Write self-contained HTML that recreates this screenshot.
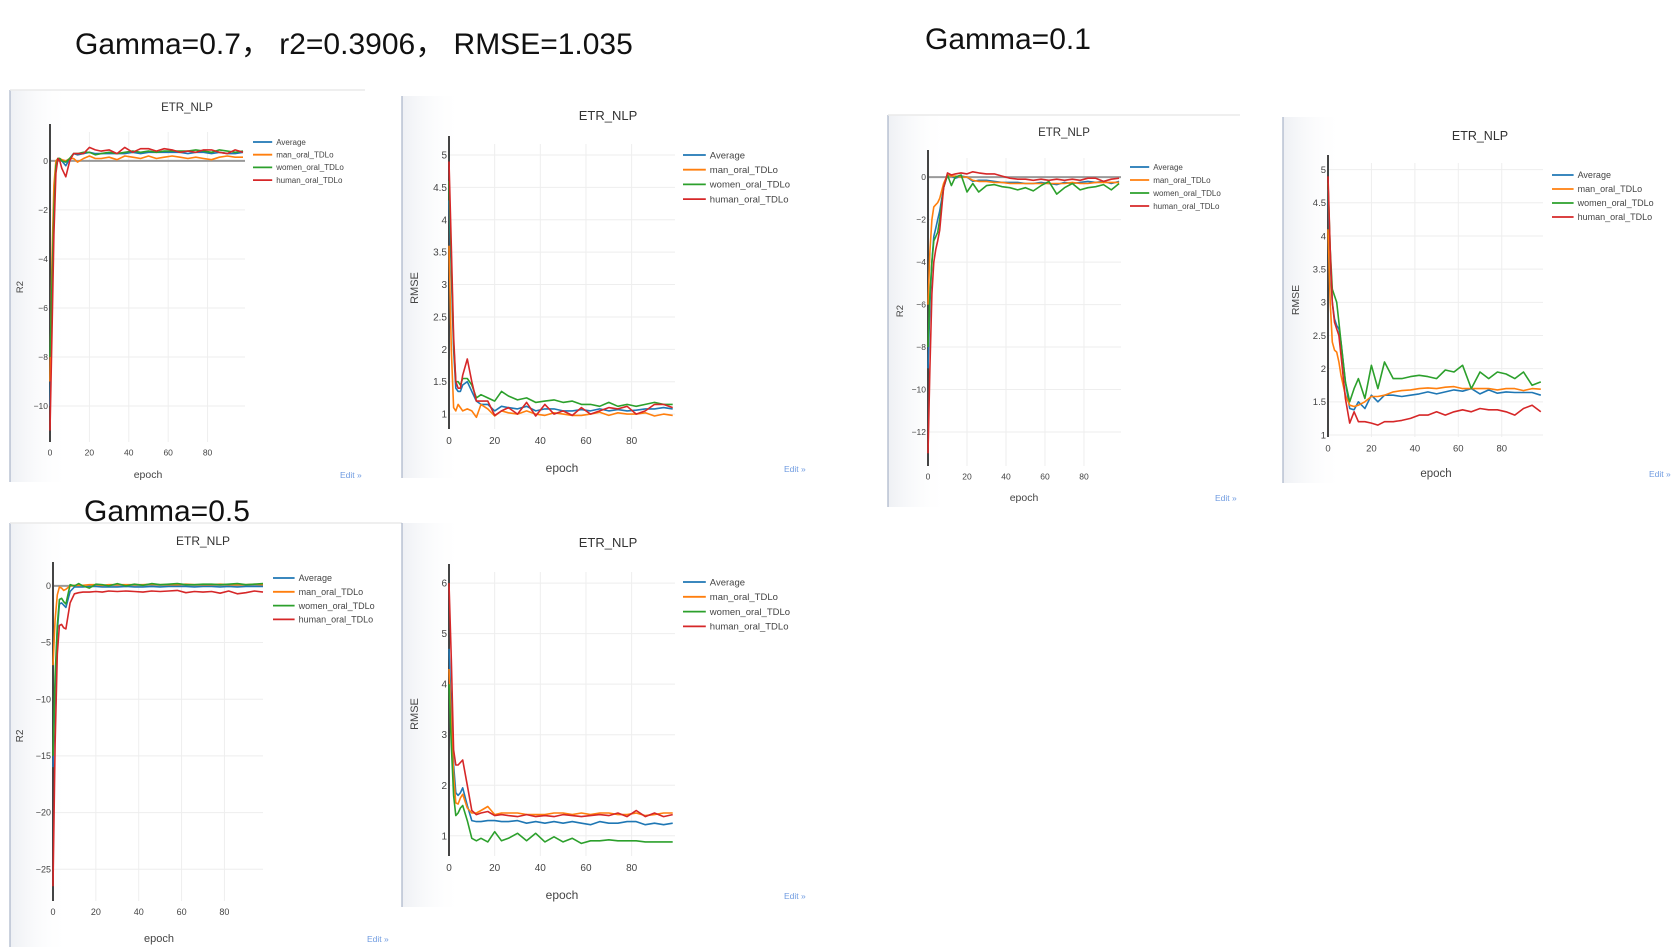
<!DOCTYPE html>
<html><head><meta charset="utf-8"><style>
body{margin:0;background:#fff;}
svg{display:block;font-family:"Liberation Sans","Noto Sans CJK SC",sans-serif;}
</style></head><body>
<svg id="s" width="1672" height="952" viewBox="0 0 1672 952">
<defs><linearGradient id="sh" x1="0" x2="1"><stop offset="0" stop-color="#eef0f4"/><stop offset="1" stop-color="#fff" stop-opacity="0"/></linearGradient></defs>
<text x="75" y="54" font-size="30" fill="#111">Gamma=0.7，  r2=0.3906，  RMSE=1.035</text>
<text x="925" y="49" font-size="30" fill="#111">Gamma=0.1</text>
<text x="84" y="521" font-size="30" fill="#111">Gamma=0.5</text>
</svg>
<script>
const epochs=[0,1,2,3,4,5,6,8,10,12,14,17,20,23,26,30,34,38,42,46,50,54,58,62,66,70,74,78,82,86,90,94,98];
const seriesNames=["Average","man_oral_TDLo","women_oral_TDLo","human_oral_TDLo"];
const colors=["#1f77b4","#ff7f0e","#2ca02c","#d62728"];
// Gamma 0.7 R2
const g07R2Avg=[-10,-6,-2,-0.3,0.1,0.1,0,-0.2,0.1,0.3,0.25,0.3,0.35,0.3,0.3,0.3,0.3,0.3,0.35,0.3,0.35,0.35,0.35,0.35,0.35,0.3,0.35,0.35,0.3,0.35,0.3,0.3,0.35];
const g07R2Man=[-9,-4,-1,0,0.1,0.1,0.05,0,0.1,0.1,-0.05,0.1,0.2,0.1,0.1,0.15,0.05,0.2,0.15,0.1,0.2,0.1,0.15,0.2,0.15,0.1,0.15,0.1,0.05,0.15,0.2,0.15,0.15];
const g07R2Women=[-8,-5,-2,-0.2,0.1,0.1,0,-0.05,0.1,0.3,0.3,0.35,0.35,0.25,0.3,0.35,0.3,0.35,0.4,0.35,0.4,0.35,0.4,0.4,0.4,0.4,0.45,0.4,0.35,0.45,0.4,0.35,0.4];
const g07R2Human=[-11,-7,-3,-0.5,0.1,0,-0.3,-0.65,0,0.3,0.3,0.3,0.55,0.45,0.4,0.45,0.3,0.55,0.35,0.5,0.5,0.4,0.5,0.45,0.35,0.4,0.35,0.45,0.45,0.35,0.3,0.45,0.35];
// Gamma 0.7 RMSE
const g07RmseAvg=[4.3,3.2,2.0,1.4,1.35,1.35,1.45,1.5,1.35,1.2,1.15,1.15,1.05,1.12,1.1,1.08,1.12,1.05,1.08,1.08,1.05,1.05,1.07,1.05,1.08,1.05,1.07,1.05,1.06,1.08,1.08,1.1,1.08];
const g07RmseMan=[3.6,2.0,1.1,1.05,1.15,1.1,1.05,1.08,1.05,0.95,1.15,1.08,0.97,1.05,1.02,1.0,1.05,1.0,0.98,1.02,1.0,0.98,0.98,1.0,1.03,0.98,1.02,1.0,1.0,1.02,0.97,1.0,0.98];
const g07RmseWomen=[4.6,3.4,2.1,1.5,1.5,1.45,1.55,1.55,1.45,1.25,1.3,1.25,1.2,1.35,1.28,1.22,1.25,1.18,1.2,1.22,1.18,1.2,1.15,1.15,1.12,1.18,1.12,1.15,1.12,1.15,1.18,1.15,1.15];
const g07RmseHuman=[4.9,3.6,2.2,1.5,1.4,1.4,1.6,1.85,1.5,1.2,1.2,1.2,0.98,1.05,1.1,1.0,1.18,0.97,1.15,1.0,1.05,0.98,1.1,1.0,1.05,1.1,1.08,1.12,1.0,1.05,1.15,1.15,1.1];
// Gamma 0.1 R2
const g01R2Avg=[-9,-6,-4,-2.8,-2.4,-2,-1.6,-0.5,0.1,0.05,-0.05,0.05,0.0,-0.2,-0.15,-0.15,-0.2,-0.25,-0.25,-0.25,-0.3,-0.3,-0.25,-0.3,-0.35,-0.25,-0.3,-0.25,-0.2,-0.25,-0.2,-0.3,-0.2];
const g01R2Man=[-6,-3.5,-2,-1.4,-1.3,-1.2,-1.0,-0.3,0.1,0.05,0.05,0,0,-0.15,-0.2,-0.2,-0.25,-0.25,-0.3,-0.3,-0.3,-0.3,-0.3,-0.3,-0.3,-0.3,-0.25,-0.3,-0.3,-0.25,-0.25,-0.25,-0.25];
const g01R2Women=[-8,-5.5,-4,-3,-2.8,-2.6,-2,-0.5,0.1,-0.4,0,0.1,-0.7,-0.3,-0.7,-0.4,-0.35,-0.45,-0.5,-0.6,-0.5,-0.65,-0.4,-0.2,-0.8,-0.5,-0.3,-0.6,-0.5,-0.45,-0.35,-0.6,-0.3];
const g01R2Human=[-13,-9,-5.5,-4,-3.4,-3,-2.5,-0.5,0.2,0.1,0.15,0.2,0.15,0.25,0.2,0.15,0.15,0.05,-0.05,-0.1,-0.1,-0.15,-0.1,-0.15,-0.1,-0.15,-0.1,-0.15,-0.05,-0.05,-0.2,-0.1,-0.05];
// Gamma 0.1 RMSE
const g01RmseAvg=[4.7,3.6,3.0,2.75,2.65,2.6,2.4,1.8,1.4,1.38,1.5,1.4,1.6,1.5,1.6,1.6,1.58,1.6,1.62,1.65,1.62,1.65,1.68,1.66,1.7,1.62,1.68,1.63,1.65,1.64,1.64,1.64,1.6];
const g01RmseMan=[4.1,3.0,2.4,2.28,2.25,2.1,1.9,1.6,1.45,1.43,1.45,1.5,1.58,1.58,1.6,1.65,1.67,1.68,1.7,1.71,1.7,1.72,1.73,1.7,1.7,1.7,1.7,1.68,1.7,1.7,1.67,1.7,1.69];
const g01RmseWomen=[4.8,3.8,3.2,3.1,3.0,2.7,2.4,1.8,1.5,1.7,1.85,1.55,2.05,1.7,2.1,1.85,1.85,1.88,1.9,1.88,1.85,1.98,1.95,2.05,1.7,1.95,1.85,1.95,1.92,1.85,1.95,1.75,1.8];
const g01RmseHuman=[4.9,3.8,3.0,2.7,2.6,2.5,2.2,1.55,1.18,1.35,1.2,1.2,1.18,1.15,1.2,1.2,1.22,1.25,1.3,1.3,1.35,1.3,1.35,1.38,1.35,1.4,1.38,1.38,1.35,1.3,1.4,1.45,1.35];
// Gamma 0.5 R2
const g05R2Avg=[-16,-9,-4,-1.6,-1.5,-1.7,-1.9,-0.5,-0.1,-0.1,-0.1,-0.05,-0.05,-0.1,-0.1,-0.1,-0.05,-0.1,-0.1,-0.05,-0.1,-0.05,-0.05,-0.05,-0.1,-0.05,-0.05,-0.1,-0.05,-0.1,-0.05,-0.05,-0.05];
const g05R2Man=[-7,-3,-0.8,-0.1,-0.2,-0.4,-0.3,0,0.05,0.05,0.05,0.1,0.1,0.05,0.1,0.1,0.1,0.1,0.1,0.15,0.1,0.1,0.1,0.15,0.1,0.1,0.1,0.15,0.1,0.1,0.1,0.15,0.1];
const g05R2Women=[-15,-8,-3.5,-1.2,-1.1,-1.4,-1.6,0.1,0,0.2,0,-0.2,0.15,0.1,0.0,0.2,0.0,0.15,0.05,0.2,0.1,0.15,0.2,0.1,0.1,0.15,0.15,0.1,0.15,0.2,0.1,0.15,0.2];
const g05R2Human=[-26.5,-14,-6,-3.5,-3.4,-3.7,-3.8,-1.5,-0.7,-0.6,-0.55,-0.55,-0.5,-0.55,-0.45,-0.5,-0.45,-0.5,-0.55,-0.45,-0.5,-0.45,-0.4,-0.6,-0.5,-0.55,-0.5,-0.65,-0.45,-0.7,-0.6,-0.45,-0.55];
// Gamma 0.5 RMSE
const g05RmseAvg=[4.7,3.5,2.4,1.85,1.8,1.85,1.95,1.6,1.3,1.28,1.28,1.3,1.3,1.28,1.28,1.3,1.25,1.28,1.25,1.28,1.25,1.28,1.25,1.22,1.28,1.25,1.25,1.28,1.28,1.22,1.25,1.22,1.25];
const g05RmseMan=[4.3,3.2,2.2,1.65,1.63,1.75,1.82,1.55,1.45,1.45,1.5,1.58,1.42,1.45,1.45,1.45,1.42,1.42,1.42,1.45,1.45,1.42,1.45,1.42,1.45,1.45,1.42,1.42,1.45,1.4,1.42,1.45,1.45];
const g05RmseWomen=[4.0,2.8,1.8,1.4,1.45,1.55,1.6,1.3,0.95,0.9,0.95,0.88,1.08,0.9,0.95,1.05,0.9,1.05,0.88,0.98,0.88,0.95,0.85,0.9,0.9,0.92,0.9,0.9,0.9,0.88,0.88,0.88,0.88];
const g05RmseHuman=[6.0,4.5,2.7,2.4,2.4,2.45,2.5,2.0,1.5,1.42,1.45,1.48,1.4,1.42,1.4,1.38,1.42,1.38,1.4,1.38,1.42,1.4,1.38,1.4,1.42,1.4,1.45,1.38,1.5,1.38,1.45,1.38,1.42];
const xTicks=[0,20,40,60,80];
const r2Ticks07=[0,-2,-4,-6,-8,-10];
const rmseTicks07=[1,1.5,2,2.5,3,3.5,4,4.5,5];
const r2Ticks01=[0,-2,-4,-6,-8,-10,-12];
const rmseTicks01=[1,1.5,2,2.5,3,3.5,4,4.5,5];
const r2Ticks05=[0,-5,-10,-15,-20,-25];
const rmseTicks05=[1,2,3,4,5,6];

const NS="http://www.w3.org/2000/svg";
const svg=document.getElementById('s');
function mk(tag,attrs,parent){const e=document.createElementNS(NS,tag);for(const k in attrs)e.setAttribute(k,attrs[k]);(parent||svg).appendChild(e);return e;}
function fmt(v){return v<0?'\u2212'+(-v):String(v);}

const panels=[
 {id:'g07-r2',fx:10,fy:90,fw:355,fh:392,px:50,pr:245,pt:132,pb:442,ymin:-11.47,ymax:1.18,xmax:99,yt:r2Ticks07,yl:'R2',data:[g07R2Avg,g07R2Man,g07R2Women,g07R2Human],zero:true,fs:8.5,tx:187,ty:111,lx:253,ly:142,ldy:12.7,lfs:8,ex:148,ey:478,ylx:23,yly:287,edx:340,edy:478,topline:true},
 {id:'g07-rmse',fx:402,fy:96,fw:410,fh:382,px:449,pr:675,pt:144,pb:429,ymin:0.77,ymax:5.17,xmax:99,yt:rmseTicks07,yl:'RMSE',data:[g07RmseAvg,g07RmseMan,g07RmseWomen,g07RmseHuman],zero:false,fs:10,tx:608,ty:120,lx:683,ly:155,ldy:14.7,lfs:9.5,ex:562,ey:472,ylx:418,yly:288,edx:784,edy:472,topline:false},
 {id:'g01-r2',fx:888,fy:115,fw:352,fh:392,px:928,pr:1121,pt:158,pb:466,ymin:-13.6,ymax:0.9,xmax:99,yt:r2Ticks01,yl:'R2',data:[g01R2Avg,g01R2Man,g01R2Women,g01R2Human],zero:true,fs:8.5,tx:1064,ty:136,lx:1130,ly:167,ldy:13,lfs:8,ex:1024,ey:501,ylx:903,yly:311,edx:1215,edy:501,topline:true},
 {id:'g01-rmse',fx:1283,fy:117,fw:389,fh:366,px:1328,pr:1543,pt:163,pb:437,ymin:0.97,ymax:5.1,xmax:99,yt:rmseTicks01,yl:'RMSE',data:[g01RmseAvg,g01RmseMan,g01RmseWomen,g01RmseHuman],zero:false,fs:9.5,tx:1480,ty:140,lx:1552,ly:175,ldy:14,lfs:9,ex:1436,ey:477,ylx:1299,yly:300,edx:1649,edy:477,topline:false},
 {id:'g05-r2',fx:10,fy:523,fw:392,fh:424,px:53,pr:263,pt:570,pb:901,ymin:-27.8,ymax:1.4,xmax:98,yt:r2Ticks05,yl:'R2',data:[g05R2Avg,g05R2Man,g05R2Women,g05R2Human],zero:true,fs:9,tx:203,ty:545,lx:273,ly:578,ldy:13.8,lfs:9,ex:159,ey:942,ylx:23,yly:736,edx:367,edy:942,topline:true},
 {id:'g05-rmse',fx:402,fy:523,fw:410,fh:384,px:449,pr:675,pt:572,pb:856,ymin:0.6,ymax:6.22,xmax:99,yt:rmseTicks05,yl:'RMSE',data:[g05RmseAvg,g05RmseMan,g05RmseWomen,g05RmseHuman],zero:false,fs:10,tx:608,ty:547,lx:683,ly:582,ldy:14.8,lfs:9.5,ex:562,ey:899,ylx:418,yly:714,edx:784,edy:899,topline:false}
];

panels.forEach(p=>{
 const g=mk('g',{});
 
 
 mk('rect',{x:p.fx,y:p.fy,width:60,height:p.fh,fill:'url(#sh)'},g);
 const fl=mk('line',{x1:p.fx,y1:p.fy,x2:p.fx,y2:p.fy+p.fh,stroke:'#a9b3c8','stroke-width':1.2},g);
 
 
 if(p.topline){mk('line',{x1:p.fx,y1:p.fy,x2:p.fx+p.fw,y2:p.fy,stroke:'#eaeaea','stroke-width':1.5},g);}
 const X=v=>p.px+(v/p.xmax)*(p.pr-p.px);
 const Y=v=>p.pb-(v-p.ymin)/(p.ymax-p.ymin)*(p.pb-p.pt);
 xTicks.forEach(t=>{
  if(t>0){const gl=mk('line',{x1:X(t),y1:p.pt,x2:X(t),y2:p.pb,stroke:'#eeeeee','stroke-width':1},g);
  
  }
  const tl=mk('text',{x:X(t),y:p.pb+p.fs+5,'font-size':p.fs,fill:'#444','text-anchor':'middle'},g);
  tl.textContent=t;
  
  
 });
 p.yt.forEach(t=>{
  const gl=mk('line',{x1:p.px,y1:Y(t),x2:p.pr,y2:Y(t),stroke:(p.zero&&t===0)?'#999':'#eeeeee','stroke-width':(p.zero&&t===0)?2:1},g);
  
  
  const tl=mk('text',{x:p.px-2,y:Y(t)+p.fs*0.35,'font-size':p.fs,fill:'#444','text-anchor':'end'},g);
  tl.textContent=fmt(t);
  
  
 });
 const ax=mk('line',{x1:p.px,y1:p.pt-8,x2:p.px,y2:p.pb,stroke:'#444','stroke-width':2},g);
 
 
 p.data.forEach((arr,i)=>{
  const d=arr.map((v,j)=>(j?'L':'M')+X(epochs[j]).toFixed(1)+','+Y(v).toFixed(1)).join(' ');
  const pl=mk('path',{d:d,fill:'none',stroke:colors[i],'stroke-width':1.6,'stroke-linejoin':'round'},g);
  
  
 });
 const tt=mk('text',{x:p.tx,y:p.ty,'font-size':p.fs+3,fill:'#333','text-anchor':'middle'},g);
 tt.textContent='ETR_NLP';
 
 
 seriesNames.forEach((n,i)=>{
  const yy=p.ly+i*p.ldy;
  const lg=mk('g',{},g);
  
  
  mk('line',{x1:p.lx,y1:yy,x2:p.lx+p.lfs*2.4,y2:yy,stroke:colors[i],'stroke-width':1.8},lg);
  const lt=mk('text',{x:p.lx+p.lfs*2.4+4,y:yy+p.lfs*0.35,'font-size':p.lfs,fill:'#444'},lg);
  lt.textContent=n;
 });
 const el=mk('text',{x:p.ex,y:p.ey,'font-size':p.fs+2,fill:'#444','text-anchor':'middle'},g);
 el.textContent='epoch';
 
 
 const yl=mk('text',{x:p.ylx,y:p.yly,'font-size':p.fs+1,fill:'#444','text-anchor':'middle',transform:'rotate(-90 '+p.ylx+' '+p.yly+')'},g);
 yl.textContent=p.yl;
 
 
 const ed=mk('text',{x:p.edx,y:p.edy,'font-size':8.5,fill:'#6f9be0'},g);
 ed.textContent='Edit »';
 
 
});
</script>
</body></html>
